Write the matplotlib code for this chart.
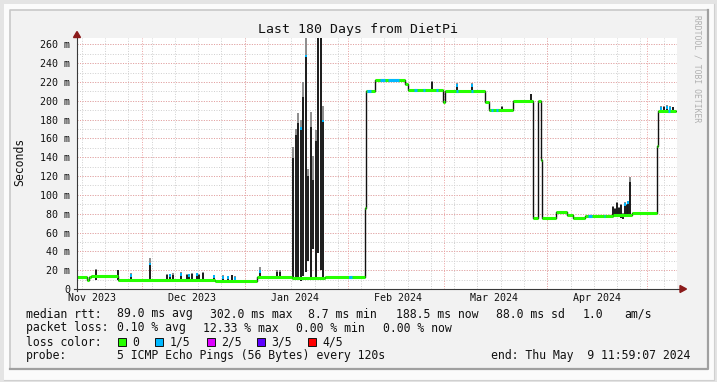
import numpy as np
import pandas as pd
import matplotlib
matplotlib.use('Agg')
import matplotlib.pyplot as plt
from matplotlib.patches import Rectangle, Polygon
from matplotlib.lines import Line2D

W, H = 717, 382
MONO = 'DejaVu Sans Mono'

# 180 day window ending Thu May 9 2024
start = pd.Timestamp('2023-11-11 13:00')
span_days = 180.47

# median rtt (ms) as steps, x in days since start
median_day = [0.0, 3.0, 3.7, 4.3, 12.3, 41.5, 54.0, 64.7, 74.6, 86.6, 87.0, 89.6,
              98.7, 99.6, 110.1, 110.7, 122.7, 123.9, 131.1, 137.2, 138.8, 139.6,
              139.9, 144.1, 147.4, 149.2, 152.8, 161.2, 166.9, 174.4, 174.9, 180.2]
median_ms = [13.0, 10.0, 12.5, 13.5, 10.0, 9.0, 13.0, 12.0, 12.5, 86.0, 210.0, 222.0,
             218.0, 211.0, 199.0, 210.0, 199.0, 190.0, 200.0, 75.0, 200.0, 137.0,
             75.0, 82.0, 78.5, 75.0, 77.5, 79.0, 81.0, 152.0, 189.0, 189.0]

# short bursts: day, low, high, smoke top (ms), lost pings
spike_day = [5.6, 12.3, 16.2, 22.0, 27.0, 28.0, 29.0, 31.2, 33.0, 33.8, 34.5, 36.0,
             36.8, 38.0, 41.2, 44.0, 45.5, 46.5, 47.5, 55.0, 60.1, 61.1,
             65.1, 65.8, 66.6, 67.3, 68.1, 68.9, 69.6, 70.3, 71.1, 71.9, 72.6, 73.3, 74.1,
             82.1, 106.9, 114.2, 118.7, 127.7, 136.6,
             161.2, 161.8, 162.5, 163.1, 163.6, 164.2, 164.8, 165.3, 165.8, 166.3,
             175.6, 176.5, 177.4, 178.3, 179.2]
spike_low = [10, 10, 10, 10, 10, 10, 10, 10, 10, 10, 10, 10,
             10, 10, 10, 9, 9, 9, 9, 13, 13, 13,
             12, 10, 11, 9, 14, 18, 30, 12, 43, 10, 38, 20, 12,
             12, 211, 210, 210, 190, 200,
             77, 77, 76, 78, 75, 74, 77, 76, 78, 80,
             189, 188, 189, 188, 189]
spike_high = [20, 20, 16, 28, 15, 16, 15, 17, 15, 16, 16, 17,
              15, 17, 15, 14, 14, 15, 13, 20, 18, 18,
              139, 164, 176, 172, 204, 249, 120, 172, 116, 157, 275, 275, 180,
              14, 220, 218, 218, 193, 207,
              87, 85, 91, 86, 89, 80, 91, 89, 93, 114,
              193, 193, 194, 193, 193]
spike_top = [21, 20, 17, 33, 16, 16, 17, 18, 16, 16, 17, 17,
             16, 18, 15, 15, 14, 15, 14, 23, 20, 20,
             151, 170, 187, 180, 220, 267, 128, 188, 141, 169, 275, 275, 194,
             14, 221, 219, 219, 194, 207,
             88, 86, 92, 87, 90, 81, 92, 90, 94, 119,
             194, 194, 195, 194, 193]
spike_loss = [0, 0, 1, 1, 0, 1, 0, 1, 0, 1, 0, 1,
              0, 0, 1, 1, 1, 0, 1, 1, 0, 0,
              0, 0, 0, 1, 0, 1, 0, 0, 0, 0, 0, 0, 1,
              1, 0, 1, 1, 0, 0,
              0, 0, 0, 0, 0, 0, 1, 0, 1, 0,
              1, 0, 1, 1, 0]

# stretches where the median had 1/5 loss
blue_from = [82.0, 87.2, 91.0, 93.5, 101.5, 104.2, 108.0, 114.0, 118.4, 124.6, 126.0, 153.6, 158.4, 177.9]
blue_to = [82.6, 88.4, 92.5, 96.8, 102.3, 104.8, 108.6, 114.6, 119.0, 125.2, 126.5, 154.8, 158.9, 178.4]

month_starts = ['2023-12-01', '2024-01-01', '2024-02-01', '2024-03-01', '2024-04-01', '2024-05-01']
label_dates = ['2023-11-16', '2023-12-16', '2024-01-16', '2024-02-16', '2024-03-16', '2024-04-16']
month_labels = ['Nov 2023', 'Dec 2023', 'Jan 2024', 'Feb 2024', 'Mar 2024', 'Apr 2024']
y_ticks = list(range(0, 261, 20))

loss_names = ['0', '1/5', '2/5', '3/5', '4/5']
loss_colors = ['#26ff00', '#00b8ff', '#dd00ff', '#5e00ff', '#ff0000']


def days(d):
    return (pd.Timestamp(d) - start) / pd.Timedelta(days=1)


def fx(x):
    return x / W


def fy(y):
    return 1 - y / H


def prect(x0, y0, x1, y1, z=-5, **kw):
    fig.patches.append(Rectangle((fx(x0), fy(y1)), (x1 - x0) / W, (y1 - y0) / H,
                                 transform=fig.transFigure, zorder=z, **kw))


def pline(xs, ys, z=-4, **kw):
    fig.lines.append(Line2D([fx(v) for v in xs], [fy(v) for v in ys],
                            transform=fig.transFigure, zorder=z, **kw))


fig = plt.figure(figsize=(W / 100, H / 100), dpi=100, facecolor='#e4e4e4')

# canvas frame
prect(4, 4, 714, 380, facecolor='#fbfbfb', edgecolor='none')
prect(10, 10, 708, 368, facecolor='#f2f2f2', edgecolor='none')
pline([10, 10, 708], [368, 10, 10], color='#c8c8c8', lw=1.2)
pline([10, 708, 708], [368.5, 368.5, 10], color='#a0a0a0', lw=1.6)
pline([4, 713.5, 713.5], [379.5, 379.5, 4], color='#d0d0d0', lw=0.8)

ax = fig.add_axes([fx(77), fy(289), 600 / W, (289 - 38) / H], facecolor='white')
ax.set_zorder(1)
ax.set_xlim(0, span_days)
ax.set_ylim(0, 266.7)
for s in ax.spines.values():
    s.set_visible(False)

# grid
for v in range(10, 267, 10):
    ax.axhline(v, color='#cfcfcf', lw=0.7, ls=(0, (1, 1.6)), zorder=1)
for v in y_ticks[1:]:
    ax.axhline(v, color='#eba0a0', lw=0.7, ls=(0, (1, 1.6)), zorder=1.2)
mondays = pd.date_range(start.normalize(), start + pd.Timedelta(days=span_days), freq='W-MON')
for m in mondays:
    ax.axvline(days(m), color='#cfcfcf', lw=0.7, ls=(0, (1, 1.6)), zorder=1)
for m in month_starts:
    ax.axvline(days(m), color='#eba0a0', lw=0.7, ls=(0, (1, 1.6)), zorder=1.2)

# smoke and bursts
ax.vlines(spike_day, spike_high, spike_top, color='#8c8c8c', lw=1.4, zorder=3)
ax.vlines(spike_day, spike_low, spike_high, color='#1a1a1a', lw=1.4, zorder=3.5)

# median line
md = np.array(median_day)
mv = np.array(median_ms)
ax.step(md, mv, where='post', color='#111111', lw=1.0, zorder=3.6)
ax.hlines(mv[:-1], md[:-1], md[1:], color=loss_colors[0], lw=2.2, zorder=4)
for b0, b1 in zip(blue_from, blue_to):
    lvl = mv[np.searchsorted(md, b0, side='right') - 1]
    ax.hlines(lvl, b0, b1, color=loss_colors[1], lw=2.2, zorder=5)
for d, hi, loss in zip(spike_day, spike_high, spike_loss):
    if loss:
        ax.vlines(d, hi - 3, hi, color=loss_colors[1], lw=1.4, zorder=5)

# ticks
ax.set_yticks(y_ticks)
ax.set_yticklabels(['0'] + ['%d m' % v for v in y_ticks[1:]])
ax.set_xticks([days(d) for d in label_dates])
ax.set_xticklabels(month_labels)
ax.tick_params(length=0, labelsize=7.2, colors='#111111')
ax.tick_params(axis='y', pad=5)
ax.tick_params(axis='x', pad=3)
for t in ax.get_xticklabels() + ax.get_yticklabels():
    t.set_fontfamily(MONO)

# axis lines with arrows (above the plot)
pline([77, 77], [291, 35], z=5, color='#3a3a3a', lw=0.8)
pline([74, 681], [289, 289], z=5, color='#3a3a3a', lw=0.8)
fig.patches.append(Polygon([(fx(73.5), fy(37.5)), (fx(80.5), fy(37.5)), (fx(77), fy(31.5))],
                           closed=True, transform=fig.transFigure, color='#8b1a1a', zorder=6))
fig.patches.append(Polygon([(fx(680), fy(285.5)), (fx(680), fy(292.5)), (fx(686.5), fy(289))],
                           closed=True, transform=fig.transFigure, color='#8b1a1a', zorder=6))

# texts
fig.text(fx(358), fy(29), 'Last 180 Days from DietPi', family=MONO, fontsize=9.5,
         ha='center', va='center', color='#111111')
fig.text(fx(20), fy(162), 'Seconds', family=MONO, fontsize=8.3, rotation=90,
         ha='center', va='center', color='#111111')
fig.text(fx(697), fy(15), 'RRDTOOL / TOBI OETIKER', family=MONO, fontsize=5.8,
         rotation=-90, ha='center', va='top', color='#b0b0b0')

fs = 8.3
row1 = [(26, 'median rtt:'), (117, '89.0 ms avg'), (210, '302.0 ms max'), (308, '8.7 ms min'),
        (396, '188.5 ms now'), (496, '88.0 ms sd'), (583, '1.0'), (624, 'am/s')]
row2 = [(26, 'packet loss:'), (117, '0.10 % avg'), (203, '12.33 % max'), (296, '0.00 % min'),
        (383, '0.00 % now')]
for x, s in row1:
    fig.text(fx(x), fy(314), s, family=MONO, fontsize=fs, va='center', color='#111111')
for x, s in row2:
    fig.text(fx(x), fy(328), s, family=MONO, fontsize=fs, va='center', color='#111111')

fig.text(fx(26), fy(342), 'loss color:', family=MONO, fontsize=fs, va='center', color='#111111')
box_x = [118, 155, 207, 257, 308]
for bx, name, col in zip(box_x, loss_names, loss_colors):
    prect(bx, 338, bx + 8, 346, z=2, facecolor=col, edgecolor='#111111', lw=0.7)
    fig.text(fx(bx + 14.5), fy(342), name, family=MONO, fontsize=fs, va='center', color='#111111')

fig.text(fx(26), fy(356), 'probe:', family=MONO, fontsize=fs, va='center', color='#111111')
fig.text(fx(117), fy(356), '5 ICMP Echo Pings (56 Bytes) every 120s', family=MONO,
         fontsize=fs, va='center', color='#111111')
fig.text(fx(690), fy(356), 'end: Thu May  9 11:59:07 2024', family=MONO, fontsize=fs,
         ha='right', va='center', color='#111111')

fig.savefig('out.png', dpi=100, facecolor=fig.get_facecolor())
